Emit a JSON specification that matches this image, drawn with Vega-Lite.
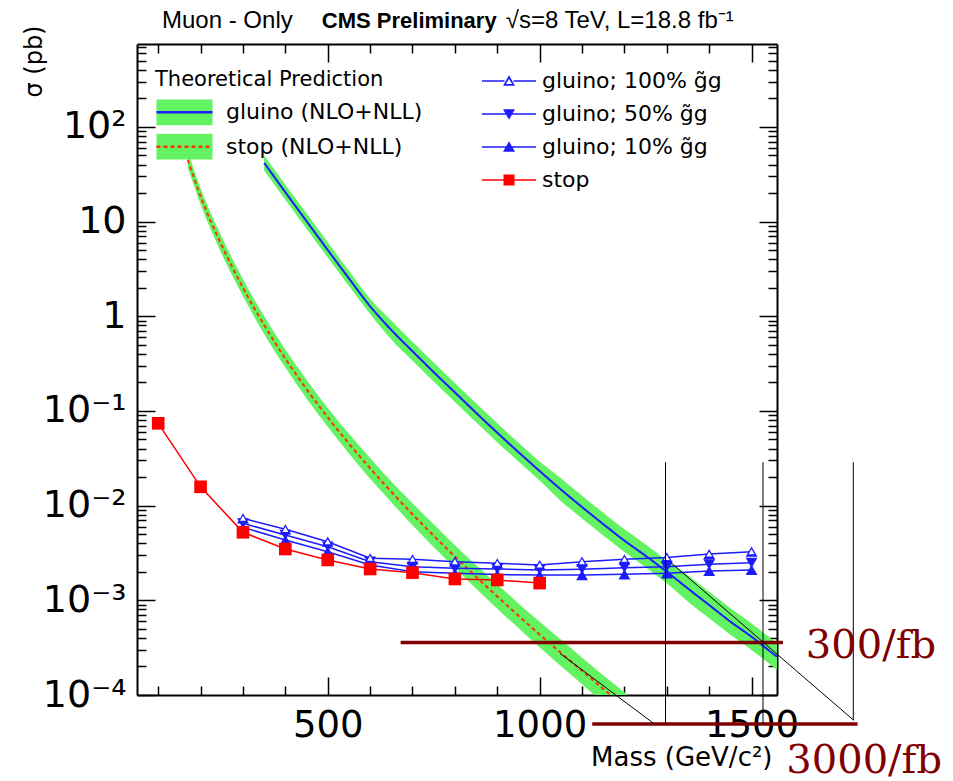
{
  "$schema": "https://vega.github.io/schema/vega-lite/v6.json",
  "width": 640,
  "height": 651,
  "autosize": {"type": "none"},
  "padding": {"left": 137, "top": 44, "right": 176, "bottom": 86},
  "background": "white",
  "config": {"view": {"stroke": null}},
  "datasets": {
    "theory": [
      {"curve": "gluino (NLO+NLL)", "mass": 350, "xsec": 41.7, "low": 34.7, "high": 50.1},
      {"curve": "gluino (NLO+NLL)", "mass": 400, "xsec": 20.4, "low": 17.0, "high": 24.5},
      {"curve": "gluino (NLO+NLL)", "mass": 450, "xsec": 10.1, "low": 8.41, "high": 12.2},
      {"curve": "gluino (NLO+NLL)", "mass": 500, "xsec": 5.01, "low": 4.17, "high": 6.03},
      {"curve": "gluino (NLO+NLL)", "mass": 550, "xsec": 2.51, "low": 2.09, "high": 3.02},
      {"curve": "gluino (NLO+NLL)", "mass": 600, "xsec": 1.274, "low": 1.059, "high": 1.531},
      {"curve": "gluino (NLO+NLL)", "mass": 650, "xsec": 0.716, "low": 0.569, "high": 0.902},
      {"curve": "gluino (NLO+NLL)", "mass": 700, "xsec": 0.427, "low": 0.339, "high": 0.537},
      {"curve": "gluino (NLO+NLL)", "mass": 750, "xsec": 0.257, "low": 0.204, "high": 0.324},
      {"curve": "gluino (NLO+NLL)", "mass": 800, "xsec": 0.157, "low": 0.1245, "high": 0.197},
      {"curve": "gluino (NLO+NLL)", "mass": 850, "xsec": 0.0955, "low": 0.0759, "high": 0.1202},
      {"curve": "gluino (NLO+NLL)", "mass": 900, "xsec": 0.0589, "low": 0.0468, "high": 0.0741},
      {"curve": "gluino (NLO+NLL)", "mass": 950, "xsec": 0.0367, "low": 0.0292, "high": 0.0462},
      {"curve": "gluino (NLO+NLL)", "mass": 1000, "xsec": 0.0232, "low": 0.0184, "high": 0.0292},
      {"curve": "gluino (NLO+NLL)", "mass": 1050, "xsec": 0.0148, "low": 0.01122, "high": 0.0195},
      {"curve": "gluino (NLO+NLL)", "mass": 1100, "xsec": 0.00966, "low": 0.00733, "high": 0.01274},
      {"curve": "gluino (NLO+NLL)", "mass": 1150, "xsec": 0.00638, "low": 0.00484, "high": 0.00841},
      {"curve": "gluino (NLO+NLL)", "mass": 1200, "xsec": 0.00427, "low": 0.00324, "high": 0.00562},
      {"curve": "gluino (NLO+NLL)", "mass": 1250, "xsec": 0.00295, "low": 0.00224, "high": 0.00389},
      {"curve": "gluino (NLO+NLL)", "mass": 1300, "xsec": 0.00200, "low": 0.00151, "high": 0.00263},
      {"curve": "gluino (NLO+NLL)", "mass": 1350, "xsec": 0.00133, "low": 0.000966, "high": 0.00184},
      {"curve": "gluino (NLO+NLL)", "mass": 1400, "xsec": 0.000891, "low": 0.000646, "high": 0.00123},
      {"curve": "gluino (NLO+NLL)", "mass": 1450, "xsec": 0.000596, "low": 0.000432, "high": 0.000822},
      {"curve": "gluino (NLO+NLL)", "mass": 1500, "xsec": 0.000412, "low": 0.000299, "high": 0.000569},
      {"curve": "gluino (NLO+NLL)", "mass": 1550, "xsec": 0.000275, "low": 0.000200, "high": 0.000380},
      {"curve": "gluino (NLO+NLL)", "mass": 1560, "xsec": 0.000254, "low": 0.000184, "high": 0.000351},
      {"curve": "stop (NLO+NLL)", "mass": 170, "xsec": 44.7, "low": 36.7, "high": 54.3},
      {"curve": "stop (NLO+NLL)", "mass": 200, "xsec": 18.5, "low": 15.2, "high": 22.5},
      {"curve": "stop (NLO+NLL)", "mass": 250, "xsec": 5.58, "low": 4.54, "high": 6.87},
      {"curve": "stop (NLO+NLL)", "mass": 300, "xsec": 2.00, "low": 1.63, "high": 2.46},
      {"curve": "stop (NLO+NLL)", "mass": 350, "xsec": 0.807, "low": 0.649, "high": 1.005},
      {"curve": "stop (NLO+NLL)", "mass": 400, "xsec": 0.357, "low": 0.287, "high": 0.445},
      {"curve": "stop (NLO+NLL)", "mass": 450, "xsec": 0.170, "low": 0.135, "high": 0.214},
      {"curve": "stop (NLO+NLL)", "mass": 500, "xsec": 0.0856, "low": 0.0679, "high": 0.1077},
      {"curve": "stop (NLO+NLL)", "mass": 550, "xsec": 0.0452, "low": 0.0355, "high": 0.0575},
      {"curve": "stop (NLO+NLL)", "mass": 600, "xsec": 0.0248, "low": 0.0192, "high": 0.0319},
      {"curve": "stop (NLO+NLL)", "mass": 650, "xsec": 0.0140, "low": 0.01086, "high": 0.0180},
      {"curve": "stop (NLO+NLL)", "mass": 700, "xsec": 0.00811, "low": 0.00622, "high": 0.01057},
      {"curve": "stop (NLO+NLL)", "mass": 750, "xsec": 0.00481, "low": 0.00365, "high": 0.00634},
      {"curve": "stop (NLO+NLL)", "mass": 800, "xsec": 0.00290, "low": 0.00220, "high": 0.00382},
      {"curve": "stop (NLO+NLL)", "mass": 850, "xsec": 0.00177, "low": 0.00133, "high": 0.00236},
      {"curve": "stop (NLO+NLL)", "mass": 900, "xsec": 0.00110, "low": 0.000815, "high": 0.00148},
      {"curve": "stop (NLO+NLL)", "mass": 950, "xsec": 0.000687, "low": 0.000509, "high": 0.000927},
      {"curve": "stop (NLO+NLL)", "mass": 1000, "xsec": 0.000435, "low": 0.000319, "high": 0.000594},
      {"curve": "stop (NLO+NLL)", "mass": 1050, "xsec": 0.000279, "low": 0.000202, "high": 0.000385},
      {"curve": "stop (NLO+NLL)", "mass": 1100, "xsec": 0.000180, "low": 0.000130, "high": 0.000248},
      {"curve": "stop (NLO+NLL)", "mass": 1150, "xsec": 0.000116, "low": 0.0000832, "high": 0.000162},
      {"curve": "stop (NLO+NLL)", "mass": 1200, "xsec": 0.0000759, "low": 0.0000537, "high": 0.000107},
      {"curve": "stop (NLO+NLL)", "mass": 1250, "xsec": 0.0000497, "low": 0.0000352, "high": 0.0000708}
    ],
    "series": [
      {"series": "gluino; 100% g\u0303g", "mass": 300, "xsec": 0.00735},
      {"series": "gluino; 100% g\u0303g", "mass": 400, "xsec": 0.00562},
      {"series": "gluino; 100% g\u0303g", "mass": 500, "xsec": 0.00416},
      {"series": "gluino; 100% g\u0303g", "mass": 600, "xsec": 0.00278},
      {"series": "gluino; 100% g\u0303g", "mass": 700, "xsec": 0.00271},
      {"series": "gluino; 100% g\u0303g", "mass": 800, "xsec": 0.00256},
      {"series": "gluino; 100% g\u0303g", "mass": 900, "xsec": 0.00246},
      {"series": "gluino; 100% g\u0303g", "mass": 1000, "xsec": 0.00236},
      {"series": "gluino; 100% g\u0303g", "mass": 1100, "xsec": 0.00256},
      {"series": "gluino; 100% g\u0303g", "mass": 1200, "xsec": 0.00271},
      {"series": "gluino; 100% g\u0303g", "mass": 1300, "xsec": 0.00284},
      {"series": "gluino; 100% g\u0303g", "mass": 1400, "xsec": 0.00308},
      {"series": "gluino; 100% g\u0303g", "mass": 1500, "xsec": 0.00326},
      {"series": "gluino; 50% g\u0303g", "mass": 300, "xsec": 0.00650},
      {"series": "gluino; 50% g\u0303g", "mass": 400, "xsec": 0.00490},
      {"series": "gluino; 50% g\u0303g", "mass": 500, "xsec": 0.00368},
      {"series": "gluino; 50% g\u0303g", "mass": 600, "xsec": 0.00256},
      {"series": "gluino; 50% g\u0303g", "mass": 700, "xsec": 0.00226},
      {"series": "gluino; 50% g\u0303g", "mass": 800, "xsec": 0.00218},
      {"series": "gluino; 50% g\u0303g", "mass": 900, "xsec": 0.00214},
      {"series": "gluino; 50% g\u0303g", "mass": 1000, "xsec": 0.00209},
      {"series": "gluino; 50% g\u0303g", "mass": 1100, "xsec": 0.00213},
      {"series": "gluino; 50% g\u0303g", "mass": 1200, "xsec": 0.00221},
      {"series": "gluino; 50% g\u0303g", "mass": 1300, "xsec": 0.00226},
      {"series": "gluino; 50% g\u0303g", "mass": 1400, "xsec": 0.00240},
      {"series": "gluino; 50% g\u0303g", "mass": 1500, "xsec": 0.00249},
      {"series": "gluino; 10% g\u0303g", "mass": 300, "xsec": 0.00590},
      {"series": "gluino; 10% g\u0303g", "mass": 400, "xsec": 0.00433},
      {"series": "gluino; 10% g\u0303g", "mass": 500, "xsec": 0.00326},
      {"series": "gluino; 10% g\u0303g", "mass": 600, "xsec": 0.00236},
      {"series": "gluino; 10% g\u0303g", "mass": 700, "xsec": 0.00200},
      {"series": "gluino; 10% g\u0303g", "mass": 800, "xsec": 0.00193},
      {"series": "gluino; 10% g\u0303g", "mass": 900, "xsec": 0.00187},
      {"series": "gluino; 10% g\u0303g", "mass": 1000, "xsec": 0.00185},
      {"series": "gluino; 10% g\u0303g", "mass": 1100, "xsec": 0.00185},
      {"series": "gluino; 10% g\u0303g", "mass": 1200, "xsec": 0.00188},
      {"series": "gluino; 10% g\u0303g", "mass": 1300, "xsec": 0.00193},
      {"series": "gluino; 10% g\u0303g", "mass": 1400, "xsec": 0.00204},
      {"series": "gluino; 10% g\u0303g", "mass": 1500, "xsec": 0.00209},
      {"series": "stop", "mass": 100, "xsec": 0.0740},
      {"series": "stop", "mass": 200, "xsec": 0.0158},
      {"series": "stop", "mass": 300, "xsec": 0.00523},
      {"series": "stop", "mass": 400, "xsec": 0.00348},
      {"series": "stop", "mass": 500, "xsec": 0.00267},
      {"series": "stop", "mass": 600, "xsec": 0.00214},
      {"series": "stop", "mass": 700, "xsec": 0.00196},
      {"series": "stop", "mass": 800, "xsec": 0.00168},
      {"series": "stop", "mass": 900, "xsec": 0.00164},
      {"series": "stop", "mass": 1000, "xsec": 0.00152}
    ],
    "lumiLines": [
      {"mass_from": 672, "mass_to": 1574, "xsec": 0.000358},
      {"mass_from": 1124, "mass_to": 1750, "xsec": 0.0000494}
    ],
    "thinLines": [
      {"mass_from": 1297, "mass_to": 1297, "xsec_from": 0.0288, "xsec_to": 0.0000494},
      {"mass_from": 1527, "mass_to": 1527, "xsec_from": 0.0288, "xsec_to": 0.0000494},
      {"mass_from": 1740, "mass_to": 1740, "xsec_from": 0.0288, "xsec_to": 0.0000544},
      {"mass_from": 1310, "mass_to": 1741, "xsec_from": 0.00249, "xsec_to": 0.0000541},
      {"mass_from": 1048, "mass_to": 1271, "xsec_from": 0.000275, "xsec_to": 0.0000494}
    ],
    "lumiText": [
      {"label": "300/fb", "mass": 1628, "xsec": 0.000246},
      {"label": "3000/fb", "mass": 1582, "xsec": 0.00001486}
    ],
    "headerNormal": [
      {"label": "Muon - Only", "mass": 109, "xsec": 1120},
      {"label": "\u221As=8 TeV, L=18.8 fb\u207B\u00B9", "mass": 920, "xsec": 1120}
    ],
    "headerBold": [
      {"label": "CMS Preliminary", "mass": 486, "xsec": 1120}
    ]
  },
  "resolve": {"axis": {"x": "independent", "y": "independent"}},
  "layer": [
    {
      "data": {"name": "theory"},
      "mark": {"type": "area", "clip": true, "opacity": 1, "interpolate": "monotone"},
      "encoding": {
        "x": {
          "field": "mass", "type": "quantitative",
          "scale": {"domain": [50, 1560], "nice": false, "zero": false},
          "axis": {
            "orient": "bottom",
            "values": [100, 200, 300, 400, 500, 600, 700, 800, 900, 1000, 1100, 1200, 1300, 1400, 1500],
            "labelExpr": "datum.value % 500 == 0 ? format(datum.value, 'd') : ''",
            "tickSize": {"condition": {"test": "datum.value % 500 == 0", "value": -18}, "value": -9},
            "tickColor": "black", "tickWidth": 1.5,
            "domainColor": "black", "domainWidth": 2,
            "grid": false,
            "labelFont": "DejaVu Sans", "labelFontSize": 37, "labelColor": "black",
            "labelPadding": 30, "labelFlush": false, "labelOverlap": false,
            "title": "Mass (GeV/c\u00B2)", "titleFont": "DejaVu Sans", "titleFontSize": 26,
            "titleFontWeight": "normal", "titleColor": "black",
            "titleAnchor": "end", "titleAlign": "right", "titleBaseline": "alphabetic",
            "titleX": 635, "titleY": 70
          }
        },
        "y": {
          "field": "high", "type": "quantitative",
          "scale": {"type": "log", "domain": [0.0001, 750], "nice": false},
          "axis": {
            "orient": "left",
            "values": [0.0001,0.0002,0.0003,0.0004,0.0005,0.0006,0.0007,0.0008,0.0009,0.001,0.002,0.003,0.004,0.005,0.006,0.007,0.008,0.009,0.01,0.02,0.03,0.04,0.05,0.06,0.07,0.08,0.09,0.1,0.2,0.3,0.4,0.5,0.6,0.7,0.8,0.9,1,2,3,4,5,6,7,8,9,10,20,30,40,50,60,70,80,90,100,200,300,400,500,600,700],
            "labelExpr": "abs(log(datum.value)/LN10 - round(log(datum.value)/LN10)) > 0.01 ? '' : round(log(datum.value)/LN10) == 2 ? '10\u00B2' : round(log(datum.value)/LN10) == 1 ? '10' : round(log(datum.value)/LN10) == 0 ? '1' : round(log(datum.value)/LN10) == -1 ? '10\u207B\u00B9' : round(log(datum.value)/LN10) == -2 ? '10\u207B\u00B2' : round(log(datum.value)/LN10) == -3 ? '10\u207B\u00B3' : '10\u207B\u2074'",
            "tickSize": {"condition": {"test": "abs(log(datum.value)/LN10 - round(log(datum.value)/LN10)) < 0.01", "value": -18}, "value": -9},
            "tickColor": "black", "tickWidth": 1.5,
            "domainColor": "black", "domainWidth": 2,
            "grid": false,
            "labelFont": "DejaVu Sans", "labelFontSize": 38, "labelColor": "black",
            "labelPadding": 29, "labelFlush": false, "labelOverlap": false, "labelBaseline": "middle",
            "title": "\u03C3 (pb)", "titleFont": "DejaVu Sans", "titleFontSize": 24,
            "titleFontWeight": "normal", "titleColor": "black",
            "titleAngle": -90, "titleAnchor": "end", "titleAlign": "right", "titleBaseline": "middle",
            "titleX": -103, "titleY": -19
          }
        },
        "y2": {"field": "low"},
        "fill": {
          "field": "curve", "type": "nominal",
          "scale": {"range": ["#62f262", "#62f262"]},
          "legend": {
            "orient": "none", "legendX": 18, "legendY": 25, "padding": 0,
            "title": "Theoretical Prediction", "titleFont": "DejaVu Sans", "titleFontSize": 21,
            "titleFontWeight": "normal", "titleColor": "black", "titlePadding": 9, "titleLimit": 500,
            "symbolType": "M-1,-0.46H1V0.46H-1Z", "symbolSize": 3136,
            "symbolStrokeColor": "transparent", "symbolStrokeWidth": 2.5, "symbolOpacity": 1,
            "labelFont": "DejaVu Sans", "labelFontSize": 22, "labelColor": "black", "labelLimit": 500,
            "labelOffset": 12, "rowPadding": 7.3, "clipHeight": 26.7
          }
        }
      }
    },
    {
      "data": {"name": "theory"},
      "transform": [{"calculate": "datum.curve", "as": "theory"}],
      "mark": {"type": "line", "clip": true, "strokeWidth": 2, "interpolate": "monotone"},
      "encoding": {
        "x": {
          "field": "mass", "type": "quantitative",
          "axis": {
            "orient": "top",
            "values": [100, 200, 300, 400, 500, 600, 700, 800, 900, 1000, 1100, 1200, 1300, 1400, 1500],
            "labels": false,
            "tickSize": {"condition": {"test": "datum.value % 500 == 0", "value": -18}, "value": -9},
            "tickColor": "black", "tickWidth": 1.5,
            "domainColor": "black", "domainWidth": 2, "grid": false, "title": null
          }
        },
        "y": {
          "field": "xsec", "type": "quantitative",
          "axis": {
            "orient": "right",
            "values": [0.0001,0.0002,0.0003,0.0004,0.0005,0.0006,0.0007,0.0008,0.0009,0.001,0.002,0.003,0.004,0.005,0.006,0.007,0.008,0.009,0.01,0.02,0.03,0.04,0.05,0.06,0.07,0.08,0.09,0.1,0.2,0.3,0.4,0.5,0.6,0.7,0.8,0.9,1,2,3,4,5,6,7,8,9,10,20,30,40,50,60,70,80,90,100,200,300,400,500,600,700],
            "labels": false,
            "tickSize": {"condition": {"test": "abs(log(datum.value)/LN10 - round(log(datum.value)/LN10)) < 0.01", "value": -18}, "value": -9},
            "tickColor": "black", "tickWidth": 1.5,
            "domainColor": "black", "domainWidth": 2, "grid": false, "title": null
          }
        },
        "stroke": {
          "field": "theory", "type": "nominal",
          "scale": {"domain": ["gluino (NLO+NLL)", "stop (NLO+NLL)"], "range": ["#1c1cff", "#ff3300"]},
          "legend": {
            "orient": "none", "legendX": 18, "legendY": 25, "padding": 0,
            "title": "Theoretical Prediction", "titleFont": "DejaVu Sans", "titleFontSize": 21,
            "titleFontWeight": "normal", "titleColor": "transparent", "titlePadding": 9, "titleLimit": 500,
            "symbolType": "M-1,0H1M-1,-0.46L-1,-0.46M1,0.46L1,0.46", "symbolSize": 3136,
            "symbolStrokeWidth": 2.5, "symbolOpacity": 1,
            "labelFont": "DejaVu Sans", "labelFontSize": 22, "labelColor": "transparent", "labelLimit": 500,
            "labelOffset": 12, "rowPadding": 7.3, "clipHeight": 26.7
          }
        },
        "strokeDash": {
          "field": "theory", "type": "nominal",
          "scale": {"domain": ["gluino (NLO+NLL)", "stop (NLO+NLL)"], "range": [[1, 0], [4, 3]]},
          "legend": {
            "orient": "none", "legendX": 18, "legendY": 25, "padding": 0,
            "title": "Theoretical Prediction", "titleFont": "DejaVu Sans", "titleFontSize": 21,
            "titleFontWeight": "normal", "titleColor": "transparent", "titlePadding": 9, "titleLimit": 500,
            "symbolType": "M-1,0H1M-1,-0.46L-1,-0.46M1,0.46L1,0.46", "symbolSize": 3136,
            "symbolStrokeWidth": 2.5, "symbolOpacity": 1,
            "labelFont": "DejaVu Sans", "labelFontSize": 22, "labelColor": "transparent", "labelLimit": 500,
            "labelOffset": 12, "rowPadding": 7.3, "clipHeight": 26.7
          }
        }
      }
    },
    {
      "data": {"name": "series"},
      "transform": [{"filter": "indexof(datum.series, 'gluino') >= 0"}],
      "mark": {"type": "line", "strokeWidth": 1.5, "color": "#1c1cff"},
      "encoding": {
        "x": {"field": "mass", "type": "quantitative", "axis": null},
        "y": {"field": "xsec", "type": "quantitative", "axis": null},
        "detail": {"field": "series", "type": "nominal"}
      }
    },
    {
      "data": {"name": "series"},
      "transform": [{"filter": "datum.series == 'stop'"}],
      "mark": {"type": "line", "strokeWidth": 1.5, "color": "#ff0000"},
      "encoding": {
        "x": {"field": "mass", "type": "quantitative", "axis": null},
        "y": {"field": "xsec", "type": "quantitative", "axis": null}
      }
    },
    {
      "data": {"name": "series"},
      "mark": {"type": "point", "filled": true, "opacity": 0},
      "encoding": {
        "x": {"field": "mass", "type": "quantitative", "axis": null},
        "y": {"field": "xsec", "type": "quantitative", "axis": null},
        "color": {
          "field": "series", "type": "nominal",
          "scale": {"domain": ["gluino; 100% g\u0303g", "gluino; 50% g\u0303g", "gluino; 10% g\u0303g", "stop"], "range": ["#1c1cff", "#1c1cff", "#1c1cff", "#ff0000"]},
          "legend": {
            "orient": "none", "legendX": 361, "legendY": 26, "padding": 0, "title": null,
            "symbolSize": 100, "symbolStrokeColor": "transparent", "symbolStrokeWidth": 0, "symbolOpacity": 1,
            "labelFont": "DejaVu Sans", "labelFontSize": 22, "labelColor": "black", "labelLimit": 500,
            "labelOffset": 22, "rowPadding": 11
          }
        },
        "shape": {
          "field": "series", "type": "nominal",
          "scale": {
            "domain": ["gluino; 100% g\u0303g", "gluino; 50% g\u0303g", "gluino; 10% g\u0303g", "stop"],
            "range": [
              "M-5.4,-0.15H-0.9V0.15H-5.4ZM0.9,-0.15H5.4V0.15H0.9ZM0,-1.15L1.2,0.95H-1.2ZM0,-0.4L-0.62,0.62H0.62Z",
              "M-5.4,-0.15H5.4V0.15H-5.4ZM0,1.15L-1.2,-0.95H1.2Z",
              "M-5.4,-0.15H5.4V0.15H-5.4ZM0,-1.15L1.2,0.95H-1.2Z",
              "M-5.4,-0.15H5.4V0.15H-5.4ZM-1.1,-1.1H1.1V1.1H-1.1Z"
            ]
          },
          "legend": {
            "orient": "none", "legendX": 361, "legendY": 26, "padding": 0, "title": null,
            "symbolSize": 100, "symbolStrokeColor": "transparent", "symbolStrokeWidth": 0, "symbolOpacity": 1,
            "labelFont": "DejaVu Sans", "labelFontSize": 22, "labelColor": "black", "labelLimit": 500,
            "labelOffset": 22, "rowPadding": 11
          }
        }
      }
    },
    {
      "data": {"name": "series"},
      "transform": [{"filter": "indexof(datum.series, '100%') >= 0 || indexof(datum.series, '10%') >= 0"}],
      "mark": {"type": "point", "filled": true, "shape": "triangle-up", "size": 140, "color": "#1c1cff", "opacity": 1},
      "encoding": {
        "x": {"field": "mass", "type": "quantitative", "axis": null},
        "y": {"field": "xsec", "type": "quantitative", "axis": null}
      }
    },
    {
      "data": {"name": "series"},
      "transform": [{"filter": "indexof(datum.series, '50%') >= 0"}],
      "mark": {"type": "point", "filled": true, "shape": "triangle-down", "size": 140, "color": "#1c1cff", "opacity": 1},
      "encoding": {
        "x": {"field": "mass", "type": "quantitative", "axis": null},
        "y": {"field": "xsec", "type": "quantitative", "axis": null}
      }
    },
    {
      "data": {"name": "series"},
      "transform": [{"filter": "datum.series == 'stop'"}],
      "mark": {"type": "point", "filled": true, "shape": "square", "size": 160, "color": "#ff0000", "opacity": 1},
      "encoding": {
        "x": {"field": "mass", "type": "quantitative", "axis": null},
        "y": {"field": "xsec", "type": "quantitative", "axis": null}
      }
    },
    {
      "data": {"name": "series"},
      "transform": [{"filter": "indexof(datum.series, '100%') >= 0"}],
      "mark": {"type": "point", "filled": true, "shape": "triangle-up", "size": 35, "color": "white", "opacity": 1},
      "encoding": {
        "x": {"field": "mass", "type": "quantitative", "axis": null},
        "y": {"field": "xsec", "type": "quantitative", "axis": null}
      }
    },
    {
      "data": {"name": "lumiLines"},
      "mark": {"type": "rule", "color": "#800000", "strokeWidth": 3.5},
      "encoding": {
        "x": {"field": "mass_from", "type": "quantitative", "axis": null},
        "x2": {"field": "mass_to"},
        "y": {"field": "xsec", "type": "quantitative", "axis": null}
      }
    },
    {
      "data": {"name": "thinLines"},
      "mark": {"type": "rule", "color": "black", "strokeWidth": 1},
      "encoding": {
        "x": {"field": "mass_from", "type": "quantitative", "axis": null},
        "x2": {"field": "mass_to"},
        "y": {"field": "xsec_from", "type": "quantitative", "axis": null},
        "y2": {"field": "xsec_to"}
      }
    },
    {
      "data": {"name": "lumiText"},
      "mark": {"type": "text", "font": "DejaVu Serif", "fontSize": 40, "color": "#800000", "align": "left", "baseline": "alphabetic"},
      "encoding": {
        "x": {"field": "mass", "type": "quantitative", "axis": null},
        "y": {"field": "xsec", "type": "quantitative", "axis": null},
        "text": {"field": "label"}
      }
    },
    {
      "data": {"name": "headerNormal"},
      "mark": {"type": "text", "font": "Liberation Sans", "fontSize": 24, "color": "black", "align": "left", "baseline": "alphabetic"},
      "encoding": {
        "x": {"field": "mass", "type": "quantitative", "axis": null},
        "y": {"field": "xsec", "type": "quantitative", "axis": null},
        "text": {"field": "label"}
      }
    },
    {
      "data": {"name": "headerBold"},
      "mark": {"type": "text", "font": "Liberation Sans", "fontSize": 22, "fontWeight": "bold", "color": "black", "align": "left", "baseline": "alphabetic"},
      "encoding": {
        "x": {"field": "mass", "type": "quantitative", "axis": null},
        "y": {"field": "xsec", "type": "quantitative", "axis": null},
        "text": {"field": "label"}
      }
    }
  ]
}
